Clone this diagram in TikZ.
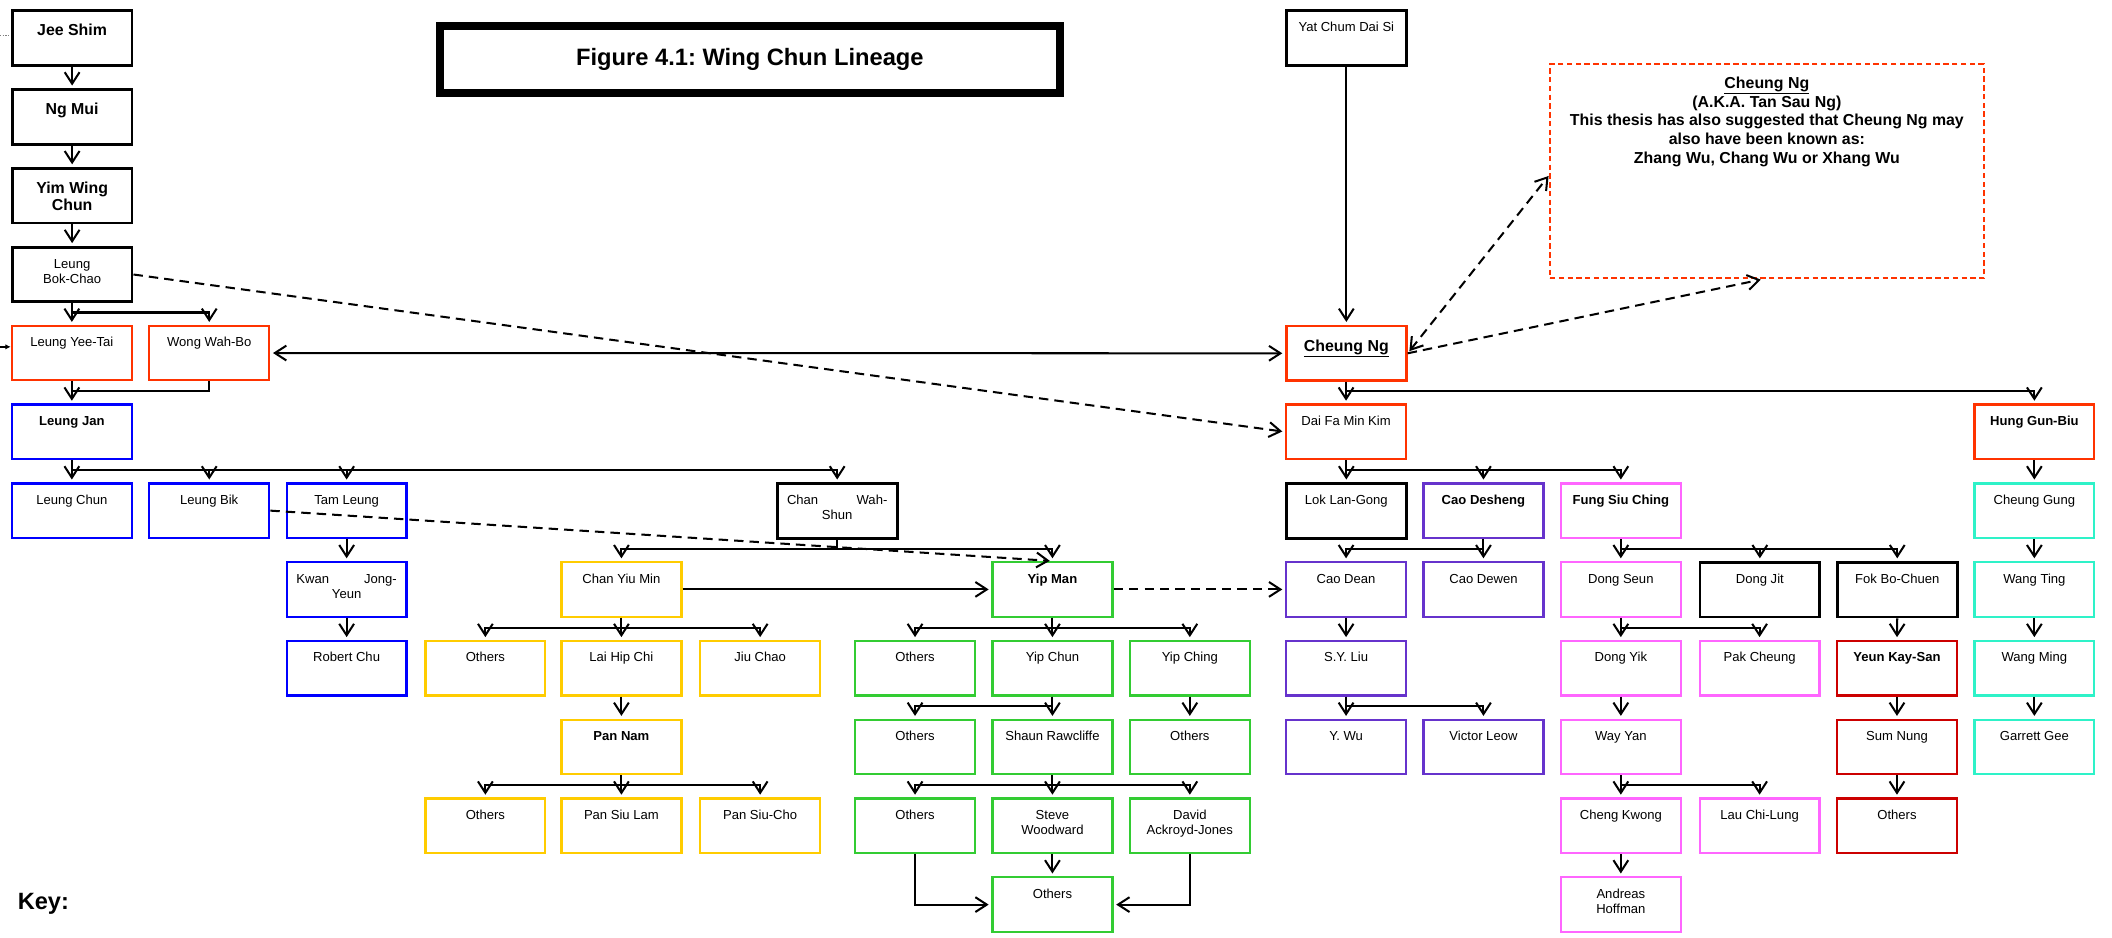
\documentclass[tikz,border=0pt]{standalone}
\usepackage{fontspec}
\setmainfont{Liberation Sans}
\usetikzlibrary{arrows.meta}
\frenchspacing

% type sizes
\newcommand\lbl{\fontsize{9.7pt}{11.4pt}\selectfont}
\newcommand\toplbl{\fontsize{11.8pt}{13pt}\selectfont\bfseries}
\newcommand\notefont{\fontsize{11.8pt}{13.9pt}\selectfont\bfseries}
\newcommand\titlefont{\fontsize{17.6pt}{20pt}\selectfont\bfseries}
% multi-line box text, first line on the box baseline
\newcommand\tx[1]{\parbox[t]{87pt}{\centering #1}}
% parent -> child through a horizontal bus at the height of coordinate #2
\newcommand\branchto[3]{\draw[arr] (#1.south) -- (#1.south |- #2) -| (#3.north);}

\definecolor{cred}{HTML}{FF3300}
\definecolor{cblue}{HTML}{0000FF}
\definecolor{cyellow}{HTML}{FFCC00}
\definecolor{cgreen}{HTML}{33CC33}
\definecolor{cpurple}{HTML}{6633CC}
\definecolor{cpink}{HTML}{FF66FF}
\definecolor{cdark}{HTML}{CC0000}
\definecolor{cteal}{HTML}{2EF2C8}

\begin{document}
\begin{tikzpicture}[x=1pt,y=-1pt,
  pbox/.style={draw=#1, line width=1.7pt, minimum width=89pt, inner sep=0pt,
    text height=15.6pt, text depth=24.9pt, anchor=north west, font=\lbl},
  kbox/.style={pbox=black, line width=2.1pt},
  topbox/.style={pbox=#1, line width=2.1pt, text height=18.6pt, text depth=21.9pt, font=\toplbl},
  tip/.tip={Straight Barb[length=8.5pt,width=11pt]},
  arr/.style={line width=1.5pt, -tip, shorten >=2pt},
  arrs/.style={line width=1.5pt, tip-tip, shorten >=2pt, shorten <=2pt},
  dsh/.style={arr, dash pattern=on 7pt off 4.5pt},
  dshs/.style={arrs, dash pattern=on 7pt off 4.5pt},
]
\fill[white] (0,0) rectangle (1568,696);
\useasboundingbox (0,0) rectangle (1568,696);

% bus heights, one per row of children
\coordinate (b4) at (0,232);
\coordinate (b5) at (0,290.5);
\coordinate (b6) at (0,349);
\coordinate (b7) at (0,407.5);
\coordinate (b8) at (0,466);
\coordinate (b9) at (0,524.5);
\coordinate (b10) at (0,583);

% title
\node[draw, line width=5.4pt, minimum width=460.6pt, inner sep=0pt, text height=29.6pt,
  text depth=20.5pt, anchor=north west, font=\titlefont] (title) at (323.7,16.2)
  {Figure 4.1: Wing Chun Lineage};
\draw[line width=1.3pt] ([shift={(5.3pt,-5.3pt)}]title.north west) rectangle ([shift={(-5.3pt,5.3pt)}]title.south east);

\node[anchor=base west, inner sep=0pt, font=\fontsize{17.5pt}{20pt}\selectfont\bfseries] (key) at (13,675) {Key:};

% founders
\node[topbox=black] (jee) at (8,7) {Jee Shim};
\node[topbox=black] (ngmui) at (8,65.5) {Ng Mui};
\node[topbox=black] (yim) at (8,124) {\tx{Yim Wing\\Chun}};
\node[kbox] (bok) at (8,182.5) {\tx{Leung\\Bok-Chao}};
\node[pbox=cred] (yeetai) at (8,241) {Leung Yee-Tai};
\node[pbox=cred] (wahbo) at (110,241) {Wong Wah-Bo};

% Leung Jan line
\node[pbox=cblue] (jan) at (8,299.5) {\textbf{Leung Jan}};
\node[pbox=cblue] (chun) at (8,358) {Leung Chun};
\node[pbox=cblue] (bik) at (110,358) {Leung Bik};
\node[pbox=cblue] (tam) at (212,358) {Tam Leung};
\node[kbox] (wahshun) at (576,358) {\tx{\makebox[74.5pt][s]{Chan Wah-}\\Shun}};
\node[pbox=cblue] (kwan) at (212,416.5) {\tx{\makebox[74.5pt][s]{Kwan Jong-}\\Yeun}};
\node[pbox=cblue] (robert) at (212,475) {Robert Chu};

% Chan Yiu Min line
\node[pbox=cyellow] (yiumin) at (416,416.5) {Chan Yiu Min};
\node[pbox=cyellow] (yoth1) at (315,475) {Others};
\node[pbox=cyellow] (laihip) at (416,475) {Lai Hip Chi};
\node[pbox=cyellow] (jiuchao) at (519,475) {Jiu Chao};
\node[pbox=cyellow] (pannam) at (416,533.5) {\textbf{Pan Nam}};
\node[pbox=cyellow] (yoth2) at (315,592) {Others};
\node[pbox=cyellow] (siulam) at (416,592) {Pan Siu Lam};
\node[pbox=cyellow] (siucho) at (519,592) {Pan Siu-Cho};

% Yip Man line
\node[pbox=cgreen] (yipman) at (736,416.5) {\textbf{Yip Man}};
\node[pbox=cgreen] (goth1) at (634,475) {Others};
\node[pbox=cgreen] (yipchun) at (736,475) {Yip Chun};
\node[pbox=cgreen] (yipching) at (838,475) {Yip Ching};
\node[pbox=cgreen] (goth2) at (634,533.5) {Others};
\node[pbox=cgreen] (shaun) at (736,533.5) {Shaun Rawcliffe};
\node[pbox=cgreen] (goth3) at (838,533.5) {Others};
\node[pbox=cgreen] (goth4) at (634,592) {Others};
\node[pbox=cgreen] (steve) at (736,592) {\tx{Steve\\Woodward}};
\node[pbox=cgreen] (david) at (838,592) {\tx{David\\Ackroyd-Jones}};
\node[pbox=cgreen] (goth5) at (736,650.5) {Others};

% Cheung Ng side
\node[kbox] (yatchum) at (954,7) {Yat Chum Dai Si};
\node[topbox=cred] (cheungng) at (954,241) {\underline{Cheung Ng}};
\node[draw=cred, line width=1.5pt, dash pattern=on 4pt off 2.5pt, minimum width=322pt,
  inner sep=0pt, text height=17.8pt, text depth=141.2pt, anchor=north west] (note) at (1150,47)
  {\parbox[t]{318pt}{\notefont\centering \underline{Cheung Ng}\\
   (A.K.A. Tan Sau Ng)\\
   This thesis has also suggested that Cheung Ng may\\
   also have been known as:\\
   Zhang Wu, Chang Wu or Xhang Wu}};
\node[pbox=cred] (daifa) at (954,299.5) {Dai Fa Min Kim};
\node[pbox=cred] (hung) at (1465,299.5) {\textbf{Hung Gun-Biu}};

\node[kbox] (lok) at (954,358) {Lok Lan-Gong};
\node[pbox=cpurple] (cao) at (1056,358) {\textbf{Cao Desheng}};
\node[pbox=cpink] (fung) at (1158,358) {\textbf{Fung Siu Ching}};
\node[pbox=cteal] (cgung) at (1465,358) {Cheung Gung};

\node[pbox=cpurple] (caodean) at (954,416.5) {Cao Dean};
\node[pbox=cpurple] (caodewen) at (1056,416.5) {Cao Dewen};
\node[pbox=cpink] (dongseun) at (1158,416.5) {Dong Seun};
\node[kbox] (dongjit) at (1261,416.5) {Dong Jit};
\node[kbox] (fok) at (1363,416.5) {Fok Bo-Chuen};
\node[pbox=cteal] (wangting) at (1465,416.5) {Wang Ting};

\node[pbox=cpurple] (syliu) at (954,475) {S.Y. Liu};
\node[pbox=cpink] (dongyik) at (1158,475) {Dong Yik};
\node[pbox=cpink] (pak) at (1261,475) {Pak Cheung};
\node[pbox=cdark] (yeun) at (1363,475) {\textbf{Yeun Kay-San}};
\node[pbox=cteal] (wangming) at (1465,475) {Wang Ming};

\node[pbox=cpurple] (ywu) at (954,533.5) {Y. Wu};
\node[pbox=cpurple] (victor) at (1056,533.5) {Victor Leow};
\node[pbox=cpink] (wayyan) at (1158,533.5) {Way Yan};
\node[pbox=cdark] (sumnung) at (1363,533.5) {Sum Nung};
\node[pbox=cteal] (garrett) at (1465,533.5) {Garrett Gee};

\node[pbox=cpink] (chengk) at (1158,592) {Cheng Kwong};
\node[pbox=cpink] (lau) at (1261,592) {Lau Chi-Lung};
\node[pbox=cdark] (doth) at (1363,592) {Others};
\node[pbox=cpink] (andreas) at (1158,650.5) {\tx{Andreas\\Hoffman}};

% loose ends at the left margin
\coordinate (edgeA) at (0,26.5);
\coordinate (edgeB) at (0,257.5);
\draw[line width=0.5pt, gray, dash pattern=on 1pt off 1pt] (edgeA) -- (edgeA -| jee.west);
\draw[line width=1pt, -{Latex[length=4pt,width=4pt]}] (edgeB) -- (edgeB -| yeetai.west);

% lineage connectors
\draw[arr] (jee.south) -- (ngmui.north);
\draw[arr] (ngmui.south) -- (yim.north);
\draw[arr] (yim.south) -- (bok.north);
\branchto{bok}{b4}{yeetai}
\branchto{bok}{b4}{wahbo}
\draw[arr] (yeetai.south) -- (jan.north);
\draw[line width=1.5pt] (wahbo.south) |- (yeetai.south |- b5);
\branchto{jan}{b6}{chun}
\branchto{jan}{b6}{bik}
\branchto{jan}{b6}{tam}
\branchto{jan}{b6}{wahshun}
\draw[arr] (tam.south) -- (kwan.north);
\draw[arr] (kwan.south) -- (robert.north);
\branchto{wahshun}{b7}{yiumin}
\branchto{wahshun}{b7}{yipman}
\draw[arr] (yiumin.east) -- (yipman.west);
\branchto{yiumin}{b8}{yoth1}
\branchto{yiumin}{b8}{laihip}
\branchto{yiumin}{b8}{jiuchao}
\draw[arr] (laihip.south) -- (pannam.north);
\branchto{pannam}{b10}{yoth2}
\branchto{pannam}{b10}{siulam}
\branchto{pannam}{b10}{siucho}
\branchto{yipman}{b8}{goth1}
\branchto{yipman}{b8}{yipchun}
\branchto{yipman}{b8}{yipching}
\branchto{yipchun}{b9}{goth2}
\branchto{yipchun}{b9}{shaun}
\draw[arr] (yipching.south) -- (goth3.north);
\branchto{shaun}{b10}{goth4}
\branchto{shaun}{b10}{steve}
\branchto{shaun}{b10}{david}
\draw[arr] (steve.south) -- (goth5.north);
\draw[arr] (goth4.south) |- (goth5.west);
\draw[arr] (david.south) |- (goth5.east);

\draw[arrs] (wahbo.east) -- (cheungng.west);
\draw[arr] (yatchum.south) -- (cheungng.north);
\branchto{cheungng}{b5}{daifa}
\branchto{cheungng}{b5}{hung}
\branchto{daifa}{b6}{lok}
\branchto{daifa}{b6}{cao}
\branchto{daifa}{b6}{fung}
\branchto{cao}{b7}{caodean}
\branchto{cao}{b7}{caodewen}
\draw[arr] (caodean.south) -- (syliu.north);
\branchto{syliu}{b9}{ywu}
\branchto{syliu}{b9}{victor}
\branchto{fung}{b7}{dongseun}
\branchto{fung}{b7}{dongjit}
\branchto{fung}{b7}{fok}
\branchto{dongseun}{b8}{dongyik}
\branchto{dongseun}{b8}{pak}
\draw[arr] (dongyik.south) -- (wayyan.north);
\branchto{wayyan}{b10}{chengk}
\branchto{wayyan}{b10}{lau}
\draw[arr] (chengk.south) -- (andreas.north);
\draw[arr] (fok.south) -- (yeun.north);
\draw[arr] (yeun.south) -- (sumnung.north);
\draw[arr] (sumnung.south) -- (doth.north);
\draw[arr] (hung.south) -- (cgung.north);
\draw[arr] (cgung.south) -- (wangting.north);
\draw[arr] (wangting.south) -- (wangming.north);
\draw[arr] (wangming.south) -- (garrett.north);

% uncertain links
\draw[dsh] (bok.east) -- (daifa.west);
\draw[dsh] (bik.east) -- (yipman.north);
\draw[dsh] (yipman.east) -- (caodean.west);
\draw[dshs, shorten >=0.5pt] (cheungng.east) -- ([yshift=-3pt]note.west);
\draw[dsh, shorten >=0.5pt] (cheungng.east) -- ([xshift=-4pt]note.south);
\end{tikzpicture}
\end{document}
